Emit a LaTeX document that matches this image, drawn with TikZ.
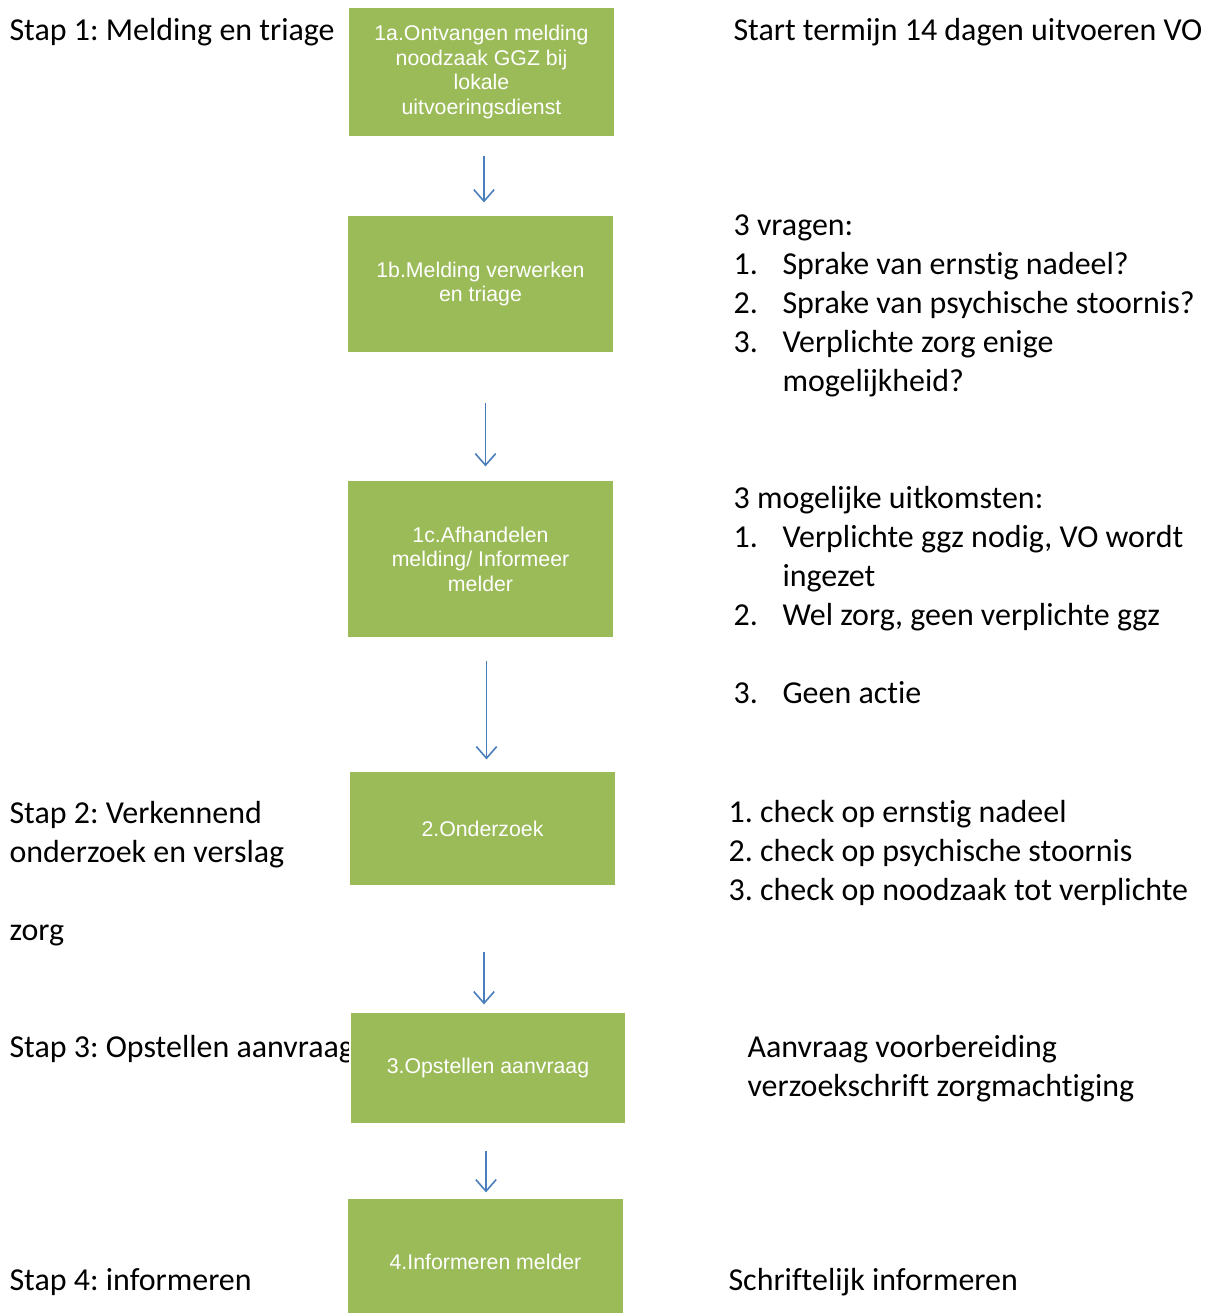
\documentclass[tikz,border=0pt]{standalone}
\usepackage{fontspec}
\setmainfont{Carlito}[Ligatures=NoCommon]
\newfontfamily\boxfont{Liberation Sans}
\usetikzlibrary{arrows.meta}
\definecolor{boxgreen}{HTML}{9BBB59}
\definecolor{flowblue}{HTML}{4A7EBB}
\newcommand{\px}{0.3443pt}
\frenchspacing
\tikzset{
  txt/.style={anchor=base west, inner sep=0pt, font=\fontsize{11pt}{13.43pt}\selectfont},
  stapbox/.style={fill=boxgreen, draw=white, line width=0.4pt, text=white, align=center, inner sep=0pt,
    minimum width=267*\px, font=\boxfont\fontsize{7.33pt}{8.43pt}\selectfont},
  flow/.style={draw=flowblue, line width=0.55pt, -{Straight Barb[length=4pt,width=7pt]}}
}
\begin{document}
\begin{tikzpicture}[x=\px, y=-\px]
\useasboundingbox (0,0) rectangle (1216,1313);
\clip (0,0) rectangle (1216,1313);
% stappen links
\node[txt] (stap1) at (9,40) {Stap 1: Melding en triage};
\node[txt] (stap2) at (9,823) {\begin{tabular}[t]{@{}l@{}} Stap 2: Verkennend \\ onderzoek en verslag \\ \\ zorg \end{tabular}};
\node[txt] (stap3) at (9,1057) {Stap 3: Opstellen aanvraag};
\node[txt] (stap4) at (9,1290) {Stap 4: informeren};
% toelichting rechts
\node[txt] (termijn) at (733,40) {Start termijn 14 dagen uitvoeren VO};
\node[txt] (vragen) at (733,235) {\begin{tabular}[t]{@{}p{16.87pt}@{}l@{}}
  \multicolumn{2}{@{}l@{}}{3 vragen:} \\
  1. & Sprake van ernstig nadeel? \\
  2. & Sprake van psychische stoornis? \\
  3. & Verplichte zorg enige \\
     & mogelijkheid? \end{tabular}};
\node[txt] (uitkomsten) at (733,508) {\begin{tabular}[t]{@{}p{16.87pt}@{}l@{}}
  \multicolumn{2}{@{}l@{}}{3 mogelijke uitkomsten:} \\
  1. & Verplichte ggz nodig, VO wordt \\
     & ingezet \\
  2. & Wel zorg, geen verplichte ggz \\
     & \\
  3. & Geen actie \end{tabular}};
\node[txt] (checks) at (728,822) {\begin{tabular}[t]{@{}l@{}} 1. check op ernstig nadeel \\ 2. check op psychische stoornis \\ 3. check op noodzaak tot verplichte \end{tabular}};
\node[txt] (voorbereiding) at (747,1057) {\begin{tabular}[t]{@{}l@{}} Aanvraag voorbereiding \\ verzoekschrift zorgmachtiging \end{tabular}};
\node[txt] (schriftelijk) at (728,1290) {Schriftelijk informeren};
% processtappen
\node[stapbox, minimum height=130*\px] (ontvangen) at (481.5,72) {1a.Ontvangen melding\\noodzaak GGZ bij\\lokale\\uitvoeringsdienst};
\node[stapbox, minimum height=138*\px] (verwerken) at (480.5,284) {1b.Melding verwerken\\en triage};
\node[stapbox, minimum height=158*\px] (afhandelen) at (480.5,559) {1c.Afhandelen\\melding/ Informeer\\melder};
\node[stapbox, minimum height=115*\px] (onderzoek) at (482.5,828.5) {2.Onderzoek};
\node[stapbox, minimum width=276*\px, minimum height=112*\px] (opstellen) at (488,1068) {3.Opstellen aanvraag};
\node[stapbox, minimum width=277*\px, minimum height=128*\px] (informeren) at (485.5,1262) {4.Informeren melder};
% pijlen
\draw[flow, shorten <=18*\px, shorten >=12*\px] ([xshift=2.5*\px]ontvangen.south) -- ([xshift=2.5*\px]ontvangen.south |- verwerken.north);
\draw[flow, shorten <=49*\px, shorten >=13*\px] ([xshift=5*\px]verwerken.south) -- ([xshift=5*\px]verwerken.south |- afhandelen.north);
\draw[flow, shorten <=22*\px, shorten >=11*\px] ([xshift=6*\px]afhandelen.south) -- ([xshift=6*\px]afhandelen.south |- onderzoek.north);
\draw[flow, shorten <=65*\px, shorten >=7*\px] ([xshift=1.5*\px]onderzoek.south) -- ([xshift=1.5*\px]onderzoek.south |- opstellen.north);
\draw[flow, shorten <=26*\px, shorten >=5*\px] ([xshift=-2*\px]opstellen.south) -- ([xshift=-2*\px]opstellen.south |- informeren.north);
\end{tikzpicture}
\end{document}
